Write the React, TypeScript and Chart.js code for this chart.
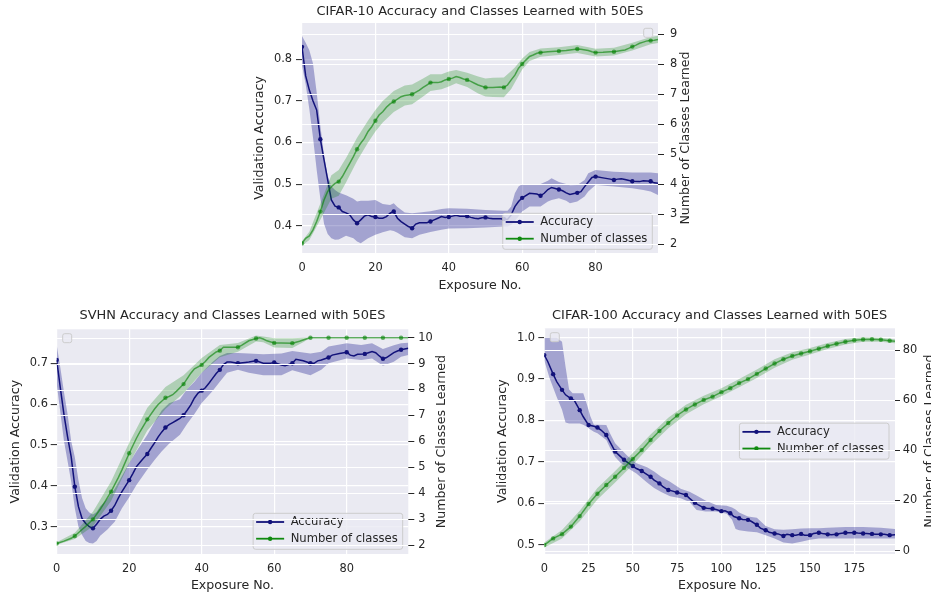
import React, { useEffect, useRef } from 'react';
import { Chart, registerables } from 'chart.js';

Chart.register(...registerables);

const FONT = "'DejaVu Sans', 'Liberation Sans', sans-serif";
const TEXT = '#262626';
const BG = '#EAEAF2';
const NAVY = '#12127a';
const NAVY_BAND = 'rgba(0,0,128,0.3)';
const GREEN_LINE = 'rgba(0,128,0,0.6)';
const GREEN_BAND = 'rgba(0,128,0,0.25)';
const GREEN_LEGEND = '#108a10';
const GRID_W = 1.2;
const TICK_SIZE = 11.4;
const LABEL_SIZE = 12.6;
const TITLE_SIZE = 12.95;
const LEGEND_SIZE = 11.6;

// ---------------- CIFAR-10 ----------------
const c10Title = 'CIFAR-10 Accuracy and Classes Learned with 50ES';
const c10XTicks = [0, 20, 40, 60, 80];
const c10AccTicks = [0.4, 0.5, 0.6, 0.7, 0.8];
const c10ClsTicks = [2, 3, 4, 5, 6, 7, 8, 9];
const c10AccX = [0,1,2,3,4,5,6,7,8,9,10,11,12,13,14,15,16,17,18,19,20,21,22,23,24,25,26,27,28,29,30,31,32,33,34,35,36,37,38,39,40,41,42,43,44,45,46,47,48,49,50,51,52,53,54,55,56,57,58,59,60,62,64,65,66,67,68,70,71,72,73,75,76,77,78,79,80,82,84,85,86,87,88,90,92,93,95,96,97];
const c10AccY = [0.83,0.76,0.726,0.70,0.678,0.608,0.558,0.51,0.462,0.447,0.444,0.434,0.431,0.426,0.414,0.406,0.414,0.423,0.426,0.422,0.421,0.418,0.418,0.422,0.43,0.434,0.418,0.41,0.404,0.398,0.394,0.404,0.407,0.407,0.407,0.41,0.414,0.418,0.422,0.42,0.421,0.423,0.425,0.423,0.423,0.423,0.42,0.418,0.417,0.419,0.42,0.418,0.417,0.417,0.417,0.416,0.415,0.426,0.446,0.458,0.467,0.478,0.476,0.472,0.478,0.487,0.492,0.487,0.484,0.479,0.475,0.479,0.482,0.494,0.505,0.516,0.518,0.515,0.512,0.51,0.512,0.513,0.511,0.507,0.506,0.508,0.507,0.503,0.502];
const c10AccBandX = [0,1,2,3,4,5,6,7,8,9,10,12,14,15,16,18,20,22,24,25,26,28,30,32,35,38,40,45,50,55,56,57,58,59,60,62,65,67,68,70,72,73,75,77,78,80,85,90,93,95,97];
const c10AccUpper = [0.856,0.84,0.822,0.79,0.72,0.64,0.57,0.52,0.495,0.486,0.48,0.473,0.465,0.458,0.46,0.46,0.462,0.452,0.45,0.454,0.445,0.432,0.43,0.432,0.435,0.44,0.442,0.441,0.438,0.436,0.436,0.446,0.478,0.494,0.5,0.5,0.5,0.508,0.514,0.505,0.5,0.497,0.498,0.51,0.526,0.534,0.53,0.528,0.528,0.528,0.526];
const c10AccLower = [0.785,0.74,0.68,0.612,0.534,0.465,0.405,0.38,0.37,0.366,0.367,0.376,0.37,0.362,0.358,0.37,0.378,0.384,0.389,0.387,0.383,0.372,0.37,0.378,0.385,0.39,0.393,0.394,0.396,0.398,0.398,0.402,0.412,0.422,0.434,0.446,0.446,0.458,0.462,0.466,0.46,0.454,0.458,0.47,0.482,0.498,0.494,0.49,0.486,0.482,0.474];
const c10ClsX = [0,1,2,3,4,5,6,7,8,9,10,11,12,13,14,15,16,17,18,19,20,21,22,23,24,25,26,27,28,29,30,32,33,34,35,37,38,39,40,41,42,43,44,45,46,47,48,49,50,52,54,55,56,57,58,59,60,61,62,63,64,65,67,70,72,73,75,76,78,79,80,82,84,85,87,88,89,90,91,92,93,94,95,96,97];
const c10ClsY = [2.03,2.2,2.28,2.48,2.76,3.09,3.48,3.76,3.92,4.03,4.09,4.26,4.48,4.7,4.92,5.17,5.37,5.53,5.76,5.92,6.12,6.31,6.42,6.57,6.68,6.76,6.84,6.92,6.96,6.98,7.0,7.14,7.23,7.31,7.39,7.39,7.42,7.48,7.51,7.54,7.59,7.56,7.51,7.48,7.43,7.37,7.31,7.27,7.23,7.23,7.24,7.23,7.31,7.48,7.64,7.87,8.01,8.14,8.26,8.31,8.37,8.39,8.42,8.44,8.46,8.48,8.51,8.5,8.46,8.42,8.39,8.4,8.42,8.42,8.46,8.48,8.53,8.59,8.64,8.7,8.74,8.78,8.79,8.8,8.83];
const c10ClsBandX = [0,2,5,8,10,12,15,18,20,22,25,28,30,33,35,38,40,42,45,48,50,52,55,57,58,60,62,65,70,75,80,85,90,95,97];
const c10ClsUpper = [2.10,2.42,3.36,4.3,4.48,4.88,5.55,6.13,6.48,6.78,7.11,7.29,7.33,7.53,7.67,7.67,7.76,7.81,7.72,7.59,7.53,7.55,7.56,7.78,7.89,8.19,8.41,8.53,8.57,8.64,8.52,8.55,8.72,8.91,8.95];
const c10ClsLower = [1.96,2.14,2.82,3.52,3.62,4.06,4.78,5.39,5.76,6.06,6.41,6.63,6.67,6.93,7.11,7.17,7.26,7.37,7.24,7.03,6.93,6.91,6.9,7.18,7.39,7.83,8.11,8.25,8.31,8.38,8.26,8.29,8.46,8.67,8.71];

// ---------------- SVHN ----------------
const svTitle = 'SVHN Accuracy and Classes Learned with 50ES';
const svXTicks = [0, 20, 40, 60, 80];
const svAccTicks = [0.3, 0.4, 0.5, 0.6, 0.7];
const svClsTicks = [2, 3, 4, 5, 6, 7, 8, 9, 10];
const svAccX = [0,1,2,3,4,5,6,7,8,9,10,11,12,13,14,15,16,17,18,19,20,21,22,23,24,25,26,27,28,29,30,31,32,33,34,35,36,37,38,39,40,41,42,43,44,45,46,47,48,50,52,53,55,57,59,60,62,63,65,66,68,70,71,72,73,75,76,78,80,81,82,83,85,86,87,88,89,90,91,92,93,94,95,96,97];
const svAccY = [0.708,0.64,0.575,0.52,0.471,0.398,0.349,0.32,0.308,0.3,0.296,0.306,0.318,0.326,0.33,0.339,0.352,0.37,0.386,0.4,0.414,0.43,0.447,0.458,0.468,0.478,0.492,0.505,0.52,0.532,0.543,0.55,0.555,0.56,0.565,0.573,0.585,0.598,0.615,0.627,0.633,0.64,0.651,0.663,0.675,0.684,0.697,0.703,0.703,0.70,0.702,0.703,0.706,0.70,0.70,0.702,0.696,0.694,0.70,0.71,0.706,0.70,0.70,0.706,0.708,0.714,0.72,0.724,0.727,0.72,0.718,0.722,0.723,0.726,0.729,0.726,0.718,0.711,0.714,0.72,0.726,0.73,0.733,0.735,0.737];
const svAccBandX = [0,1,2,3,4,5,6,7,8,9,10,11,12,14,16,18,20,22,25,27,29,31,34,36,38,40,43,45,47,50,53,57,62,65,70,73,75,80,84,87,90,93,95,97];
const svAccUpper = [0.745,0.69,0.63,0.575,0.51,0.47,0.414,0.37,0.345,0.335,0.33,0.336,0.35,0.368,0.393,0.424,0.456,0.485,0.525,0.556,0.585,0.602,0.612,0.637,0.655,0.677,0.703,0.718,0.725,0.725,0.724,0.722,0.724,0.73,0.724,0.728,0.741,0.749,0.745,0.749,0.735,0.744,0.749,0.75];
const svAccLower = [0.65,0.58,0.51,0.46,0.41,0.345,0.3,0.28,0.265,0.26,0.259,0.265,0.278,0.293,0.312,0.345,0.372,0.402,0.44,0.463,0.485,0.503,0.525,0.552,0.576,0.603,0.632,0.655,0.677,0.684,0.677,0.671,0.671,0.683,0.671,0.684,0.70,0.712,0.708,0.712,0.694,0.704,0.716,0.72];
const svClsX = [0,2,4,5,7,8,10,12,13,15,17,18,20,22,23,25,27,28,30,31,32,33,35,36,37,38,40,41,42,44,45,46,48,50,51,53,55,56,57,58,60,62,65,67,69,70,75,80,85,90,95,97];
const svClsY = [2.06,2.15,2.26,2.35,2.6,2.72,2.99,3.38,3.6,4.06,4.6,4.9,5.54,6.12,6.38,6.85,7.25,7.42,7.68,7.73,7.8,7.93,8.21,8.42,8.63,8.8,8.95,9.08,9.24,9.45,9.5,9.63,9.63,9.63,9.7,9.88,9.97,10.0,9.95,9.88,9.8,9.8,9.79,9.86,9.96,10,10,10,10,10,10,10];
const svClsBandX = [0,5,10,15,20,25,30,35,40,45,50,55,57,60,65,68,70,97];
const svClsUpper = [2.11,2.47,3.28,4.45,5.95,7.3,8.1,8.55,9.22,9.72,9.8,10.08,10.05,9.98,9.98,10.0,10,10];
const svClsLower = [2.01,2.23,2.72,3.7,5.15,6.42,7.25,7.86,8.65,9.25,9.46,9.85,9.82,9.62,9.6,9.82,10,10];

// ---------------- CIFAR-100 ----------------
const c100Title = 'CIFAR-100 Accuracy and Classes Learned with 50ES';
const c100XTicks = [0, 25, 50, 75, 100, 125, 150, 175];
const c100AccTicks = [0.5, 0.6, 0.7, 0.8, 0.9, 1.0];
const c100ClsTicks = [0, 20, 40, 60, 80];
const c100AccX = [0,2,5,7,10,12,15,17,20,22,25,28,30,32,35,37,40,42,45,47,50,52,55,57,60,62,65,67,70,72,75,77,80,82,85,87,90,92,95,97,100,102,105,107,110,112,115,117,120,122,125,127,130,132,135,137,140,142,145,147,150,152,155,157,160,162,165,167,170,172,175,177,180,182,185,187,190,192,195,198];
const c100AccY = [0.958,0.942,0.912,0.894,0.874,0.862,0.853,0.848,0.825,0.809,0.789,0.786,0.783,0.777,0.765,0.749,0.725,0.717,0.705,0.699,0.69,0.684,0.678,0.672,0.664,0.656,0.648,0.64,0.632,0.63,0.626,0.624,0.62,0.612,0.601,0.596,0.589,0.588,0.587,0.585,0.581,0.582,0.576,0.568,0.564,0.561,0.56,0.556,0.548,0.54,0.535,0.53,0.527,0.526,0.521,0.525,0.523,0.523,0.526,0.523,0.523,0.527,0.529,0.527,0.525,0.524,0.525,0.527,0.529,0.529,0.529,0.528,0.527,0.527,0.526,0.525,0.525,0.525,0.523,0.524];
const c100AccBandX = [0,3,7,10,11,12,14,16,20,22,24,26,28,30,35,37,40,43,47,52,58,62,66,71,77,82,86,91,97,103,106,108,110,115,120,125,130,135,140,145,150,155,160,170,180,190,198];
const c100AccUpper = [1.0,1.0,1.0,0.99,0.96,0.93,0.875,0.866,0.866,0.866,0.84,0.81,0.79,0.79,0.789,0.77,0.745,0.732,0.714,0.697,0.687,0.677,0.664,0.652,0.635,0.628,0.619,0.607,0.596,0.594,0.59,0.585,0.578,0.568,0.565,0.545,0.537,0.536,0.537,0.539,0.54,0.54,0.541,0.543,0.543,0.541,0.538];
const c100AccLower = [0.945,0.902,0.857,0.826,0.81,0.795,0.793,0.793,0.793,0.79,0.785,0.778,0.773,0.769,0.753,0.735,0.712,0.698,0.685,0.672,0.65,0.637,0.627,0.617,0.612,0.603,0.584,0.58,0.58,0.575,0.56,0.538,0.535,0.532,0.53,0.523,0.515,0.505,0.503,0.507,0.512,0.515,0.515,0.515,0.515,0.515,0.515];
const c100ClsX = [0,2,5,10,15,20,25,30,35,40,45,50,55,60,65,70,75,80,85,90,95,100,105,110,115,120,125,130,135,140,145,150,155,160,165,170,175,180,185,190,195,198];
const c100ClsY = [2.3,3.3,4.9,6.6,9.6,13.8,18.6,22.7,26.2,29.5,33,36.6,40.1,44.1,47.7,50.9,53.9,56.3,58.3,60.1,61.4,63.2,64.8,66.8,68.4,70.5,72.6,74.6,76.3,77.6,78.6,79.5,80.5,81.6,82.5,83.3,83.9,84.2,84.3,84.1,83.7,83.5];
const c100ClsBandX = [0,10,20,30,40,50,60,70,80,90,100,110,120,130,140,150,160,170,180,190,198];
const c100ClsUpper = [3.3,8.3,15.9,25.0,31.8,38.9,46.3,53.0,58.2,61.8,64.8,68.4,72.2,76.3,79.1,80.8,82.8,84.4,85.1,84.9,84.3];
const c100ClsLower = [1.3,4.9,11.7,20.4,27.2,34.3,41.9,48.8,54.4,58.4,61.6,65.2,68.8,72.9,76.1,78.2,80.4,82.2,83.3,83.3,82.7];

const ACC_LABEL = 'Accuracy';
const CLS_LABEL = 'Number of classes';

type Spec = {
  left: number; top: number; width: number; height: number;
  leftW: number; rightW: number; xH: number;
  titlePadTop: number; titlePadBottom: number; leftTitlePad: number;
  leftTickLen: number; leftTickPad: number; rightTickLen: number; rightTickPad: number; xTickPad: number;
  rightTitleX: number;
  title: string;
  xMax: number; xTicks: number[];
  accMin: number; accMax: number; accTicks: number[];
  clsMin: number; clsMax: number; clsTicks: number[];
  accX: number[]; accY: number[]; accBandX: number[]; accUpper: number[]; accLower: number[];
  clsX: number[]; clsY: number[]; clsBandX: number[]; clsUpper: number[]; clsLower: number[];
  legRight: number; legBottom: number; legVCenter: boolean;
  emptySide: 'left' | 'right';
};

const SPECS: Spec[] = [
  {
    left: 240, top: 0, width: 460, height: 298, leftW: 62, rightW: 42, xH: 45,
    titlePadTop: 3.93, titlePadBottom: 3.53, leftTitlePad: 12.44,
    leftTickLen: 6, leftTickPad: 4, rightTickLen: 6, rightTickPad: 6, xTickPad: 8.2,
    rightTitleX: 446, title: c10Title, xMax: 97, xTicks: c10XTicks,
    accMin: 0.3344, accMax: 0.8873, accTicks: c10AccTicks,
    clsMin: 1.71, clsMax: 9.377, clsTicks: c10ClsTicks,
    accX: c10AccX, accY: c10AccY, accBandX: c10AccBandX, accUpper: c10AccUpper, accLower: c10AccLower,
    clsX: c10ClsX, clsY: c10ClsY, clsBandX: c10ClsBandX, clsUpper: c10ClsUpper, clsLower: c10ClsLower,
    legRight: 5.7, legBottom: 3.7, legVCenter: false, emptySide: 'right',
  },
  {
    left: 0, top: 300, width: 470, height: 298, leftW: 56.7, rightW: 61.7, xH: 44,
    titlePadTop: 8.23, titlePadBottom: 5.53, leftTitlePad: 8.44,
    leftTickLen: 6, leftTickPad: 2.8, rightTickLen: 6, rightTickPad: 4, xTickPad: 8.4,
    rightTitleX: 441.7, title: svTitle, xMax: 97, xTicks: svXTicks,
    accMin: 0.2332, accMax: 0.7832, accTicks: svAccTicks,
    clsMin: 1.653, clsMax: 10.324, clsTicks: svClsTicks,
    accX: svAccX, accY: svAccY, accBandX: svAccBandX, accUpper: svAccUpper, accLower: svAccLower,
    clsX: svClsX, clsY: svClsY, clsBandX: svClsBandX, clsUpper: svClsUpper, clsLower: svClsLower,
    legRight: 5.6, legBottom: 4.7, legVCenter: false, emptySide: 'left',
  },
  {
    left: 480, top: 300, width: 451, height: 298, leftW: 64.3, rightW: 36, xH: 44,
    titlePadTop: 8.23, titlePadBottom: 4.53, leftTitlePad: 15.14,
    leftTickLen: 6, leftTickPad: 3.3, rightTickLen: 5, rightTickPad: 2.7, xTickPad: 8.4,
    rightTitleX: 450, title: c100Title, xMax: 198, xTicks: c100XTicks,
    accMin: 0.4775, accMax: 1.0227, accTicks: c100AccTicks,
    clsMin: -1.315, clsMax: 88.65, clsTicks: c100ClsTicks,
    accX: c100AccX, accY: c100AccY, accBandX: c100AccBandX, accUpper: c100AccUpper, accLower: c100AccLower,
    clsX: c100ClsX, clsY: c100ClsY, clsBandX: c100ClsBandX, clsUpper: c100ClsUpper, clsLower: c100ClsLower,
    legRight: 6, legBottom: 0, legVCenter: true, emptySide: 'left',
  },
];

const pts = (xs: number[], ys: number[]) =>
  xs.slice(0, Math.min(xs.length, ys.length)).map((x, i) => ({ x, y: ys[i] }));

const marker = (c: any) => (c.raw && c.raw.x % 5 === 0 ? 2.2 : 0);

function rr(ctx: CanvasRenderingContext2D, x: number, y: number, w: number, h: number, r: number) {
  ctx.beginPath();
  ctx.moveTo(x + r, y);
  ctx.lineTo(x + w - r, y);
  ctx.arcTo(x + w, y, x + w, y + r, r);
  ctx.lineTo(x + w, y + h - r);
  ctx.arcTo(x + w, y + h, x + w - r, y + h, r);
  ctx.lineTo(x + r, y + h);
  ctx.arcTo(x, y + h, x, y + h - r, r);
  ctx.lineTo(x, y + r);
  ctx.arcTo(x, y, x + r, y, r);
  ctx.closePath();
}

function drawLegend(chart: any, s: Spec) {
  const { ctx, chartArea: a } = chart;
  const items = [
    { text: chart.data.datasets[3].label, color: NAVY },
    { text: chart.data.datasets[0].label, color: GREEN_LEGEND },
  ];
  ctx.save();
  ctx.font = `${LEGEND_SIZE}px ${FONT}`;
  const tw = Math.max(...items.map((i) => ctx.measureText(i.text).width));
  const w = 3 + 28 + 6.5 + tw + 5;
  const h = 36;
  const x = a.right - s.legRight - w;
  const y = s.legVCenter ? (a.top + a.bottom) / 2 - h / 2 : a.bottom - s.legBottom - h;
  rr(ctx, x, y, w, h, 2.5);
  ctx.fillStyle = 'rgba(234,234,242,0.8)';
  ctx.fill();
  ctx.strokeStyle = '#cccccc';
  ctx.lineWidth = 1;
  ctx.stroke();
  items.forEach((it, i) => {
    const cy = y + 8.7 + i * 16.7;
    ctx.strokeStyle = it.color;
    ctx.lineWidth = 1.8;
    ctx.beginPath();
    ctx.moveTo(x + 3, cy);
    ctx.lineTo(x + 31, cy);
    ctx.stroke();
    ctx.fillStyle = it.color;
    ctx.beginPath();
    ctx.arc(x + 17, cy, 2.2, 0, Math.PI * 2);
    ctx.fill();
    ctx.fillStyle = TEXT;
    ctx.textAlign = 'left';
    ctx.textBaseline = 'middle';
    ctx.fillText(it.text, x + 37.5, cy);
  });
  ctx.restore();
}

function drawTwinGrid(chart: any) {
  const { ctx, chartArea: a } = chart;
  const sc = chart.scales.y1;
  ctx.save();
  ctx.strokeStyle = '#ffffff';
  ctx.lineWidth = GRID_W;
  sc.ticks.forEach((t: any) => {
    const py = Math.round(sc.getPixelForValue(t.value)) + 0.5;
    ctx.beginPath();
    ctx.moveTo(a.left, py);
    ctx.lineTo(a.right, py);
    ctx.stroke();
  });
  ctx.restore();
}

function drawExtras(chart: any, s: Spec) {
  const { ctx, chartArea: a } = chart;
  ctx.save();
  const size = 9;
  const ex = s.emptySide === 'right' ? a.right - 5.3 - size : a.left + 6;
  const ey = a.top + (s.emptySide === 'right' ? 5.3 : 4.4);
  rr(ctx, ex, ey, size, size, 2);
  ctx.fillStyle = 'rgba(234,234,242,0.8)';
  ctx.fill();
  ctx.strokeStyle = '#cccccc';
  ctx.lineWidth = 1;
  ctx.stroke();
  ctx.translate(s.rightTitleX, (a.top + a.bottom) / 2);
  ctx.rotate(-Math.PI / 2);
  ctx.font = `${LABEL_SIZE}px ${FONT}`;
  ctx.fillStyle = TEXT;
  ctx.textAlign = 'center';
  ctx.textBaseline = 'middle';
  ctx.fillText('Number of Classes Learned', 0, 0);
  ctx.restore();
}

function buildConfig(s: Spec): any {
  const datasets = [
    {
      label: CLS_LABEL, data: pts(s.clsX, s.clsY), yAxisID: 'y1',
      borderColor: GREEN_LINE, backgroundColor: GREEN_LINE, borderWidth: 1.5,
      pointRadius: marker, pointBackgroundColor: GREEN_LINE, pointBorderWidth: 0, pointHoverRadius: 0,
      fill: false, tension: 0,
    },
    {
      label: 'cls upper', data: pts(s.clsBandX, s.clsUpper), yAxisID: 'y1',
      borderColor: 'rgba(0,0,0,0)', backgroundColor: GREEN_BAND, borderWidth: 0,
      pointRadius: 0, fill: 2, tension: 0,
    },
    {
      label: 'cls lower', data: pts(s.clsBandX, s.clsLower), yAxisID: 'y1',
      borderColor: 'rgba(0,0,0,0)', borderWidth: 0, pointRadius: 0, fill: false, tension: 0,
    },
    {
      label: ACC_LABEL, data: pts(s.accX, s.accY), yAxisID: 'y',
      borderColor: NAVY, backgroundColor: NAVY, borderWidth: 1.5,
      pointRadius: marker, pointBackgroundColor: NAVY, pointBorderWidth: 0, pointHoverRadius: 0,
      fill: false, tension: 0,
    },
    {
      label: 'acc upper', data: pts(s.accBandX, s.accUpper), yAxisID: 'y',
      borderColor: 'rgba(0,0,0,0)', backgroundColor: NAVY_BAND, borderWidth: 0,
      pointRadius: 0, fill: 5, tension: 0,
    },
    {
      label: 'acc lower', data: pts(s.accBandX, s.accLower), yAxisID: 'y',
      borderColor: 'rgba(0,0,0,0)', borderWidth: 0, pointRadius: 0, fill: false, tension: 0,
    },
  ];

  const tickFont = { family: FONT, size: TICK_SIZE };
  const labelFont = { family: FONT, size: LABEL_SIZE };

  const deco = {
    id: 'deco',
    beforeDraw(chart: any) {
      const { ctx, chartArea: a } = chart;
      ctx.save();
      ctx.fillStyle = BG;
      ctx.fillRect(a.left, a.top, a.right - a.left, a.bottom - a.top);
      ctx.restore();
    },
    afterDatasetDraw(chart: any, args: any) {
      if (args.index !== 3) return;
      drawLegend(chart, s);
      drawTwinGrid(chart);
    },
    afterDraw(chart: any) {
      drawExtras(chart, s);
    },
  };

  return {
    type: 'line',
    data: { datasets },
    plugins: [deco],
    options: {
      responsive: false,
      animation: false,
      events: [],
      layout: { padding: 0, autoPadding: false },
      plugins: {
        legend: { display: false },
        tooltip: { enabled: false },
        title: {
          display: true, text: s.title, color: TEXT, fullSize: false,
          font: { family: FONT, size: TITLE_SIZE, weight: 'normal' },
          padding: { top: s.titlePadTop, bottom: s.titlePadBottom },
        },
      },
      scales: {
        x: {
          type: 'linear', min: 0, max: s.xMax,
          afterBuildTicks: (sc: any) => { sc.ticks = s.xTicks.map((v) => ({ value: v })); },
          afterFit: (sc: any) => { sc.height = s.xH; },
          grid: { color: '#ffffff', lineWidth: GRID_W, drawTicks: false },
          border: { display: false },
          ticks: { color: TEXT, font: tickFont, padding: s.xTickPad, autoSkip: false, maxRotation: 0, callback: (v: any) => String(v) },
          title: { display: true, text: 'Exposure No.', color: TEXT, font: labelFont, padding: { top: 0, bottom: 4.74 } },
        },
        y: {
          type: 'linear', position: 'left', min: s.accMin, max: s.accMax,
          afterBuildTicks: (sc: any) => { sc.ticks = s.accTicks.map((v) => ({ value: v })); },
          afterFit: (sc: any) => { sc.width = s.leftW; },
          grid: { color: '#ffffff', lineWidth: GRID_W, tickColor: TEXT, tickWidth: 1, tickLength: s.leftTickLen },
          border: { display: false },
          ticks: { color: TEXT, font: tickFont, padding: s.leftTickPad, autoSkip: false, callback: (v: any) => Number(v).toFixed(1) },
          title: { display: true, text: 'Validation Accuracy', color: TEXT, font: labelFont, padding: { top: s.leftTitlePad, bottom: 0 } },
        },
        y1: {
          type: 'linear', position: 'right', min: s.clsMin, max: s.clsMax,
          afterBuildTicks: (sc: any) => { sc.ticks = s.clsTicks.map((v) => ({ value: v })); },
          afterFit: (sc: any) => { sc.width = s.rightW; },
          grid: { drawOnChartArea: false, color: '#ffffff', tickColor: TEXT, tickWidth: 1, tickLength: s.rightTickLen },
          border: { display: false },
          ticks: { color: TEXT, font: tickFont, padding: s.rightTickPad, autoSkip: false, callback: (v: any) => String(v) },
        },
      },
    },
  };
}

function ChartBox({ spec }: { spec: Spec }) {
  const ref = useRef<HTMLCanvasElement>(null);
  useEffect(() => {
    if (!ref.current) return;
    const chart = new Chart(ref.current, buildConfig(spec));
    return () => chart.destroy();
  }, [spec]);
  return (
    <canvas
      ref={ref}
      width={spec.width}
      height={spec.height}
      style={{ position: 'absolute', left: spec.left, top: spec.top, width: spec.width, height: spec.height }}
    />
  );
}

export default function App() {
  return (
    <div style={{ position: 'absolute', left: 0, top: 0, width: 931, height: 598, background: '#ffffff', overflow: 'hidden' }}>
      {SPECS.map((s, i) => (
        <ChartBox key={i} spec={s} />
      ))}
    </div>
  );
}
